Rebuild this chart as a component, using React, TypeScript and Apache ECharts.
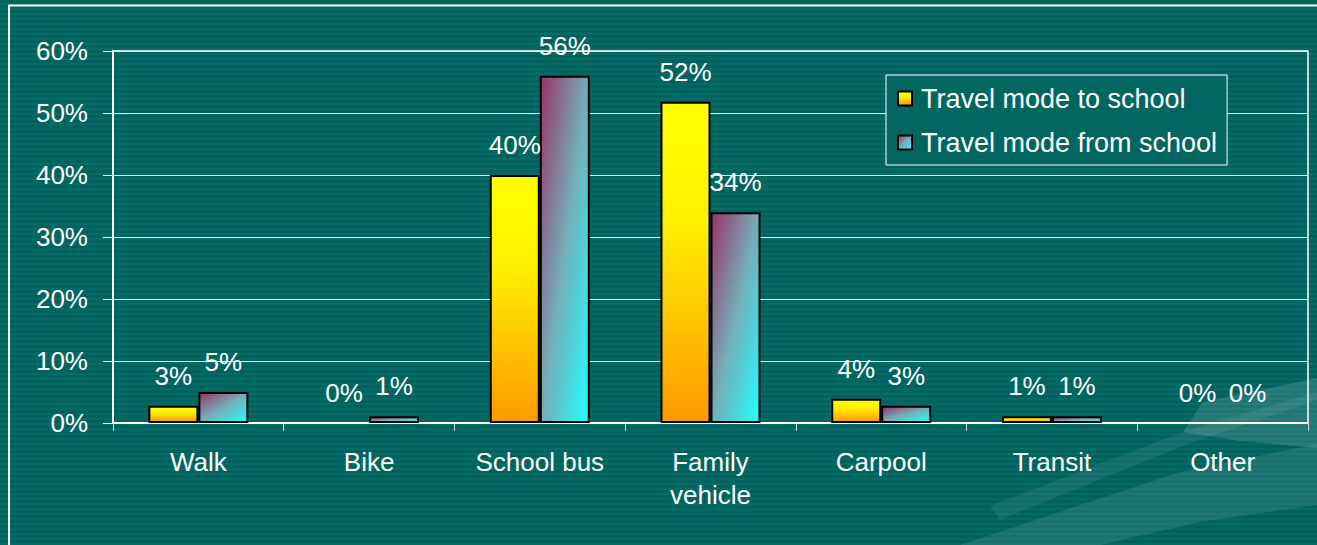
import React, { useEffect, useRef } from 'react';
import * as echarts from 'echarts';

const categories = ['Walk', 'Bike', 'School bus', 'Family\nvehicle', 'Carpool', 'Transit', 'Other'];
const seriesNames = ['Travel mode to school', 'Travel mode from school'];
const toSchool = [0.028, 0, 0.4, 0.518, 0.039, 0.011, 0];
const fromSchool = [0.05, 0.011, 0.56, 0.34, 0.028, 0.011, 0];
const yMin = 0;
const yMax = 0.6;
const yStep = 0.1;

const FONT = '"Liberation Sans", Arial, sans-serif';
const BG = '#036661';

const yellowFill = new echarts.graphic.LinearGradient(0, 0, 0, 1, [
  { offset: 0, color: '#FFFF00' },
  { offset: 0.35, color: '#FFF200' },
  { offset: 1, color: '#FF9900' },
]);
const cyanFill = new echarts.graphic.LinearGradient(0, 0, 1, 1, [
  { offset: 0, color: '#993366' },
  { offset: 0.5, color: '#74AEBA' },
  { offset: 1, color: '#22FFFF' },
]);

const pct = (v: number) => Math.round(v * 100) + '%';

function toItems(values: number[]) {
  return values.map((v) => (v === 0 ? { value: v, itemStyle: { borderWidth: 0 } } : v));
}

export default function App() {
  const ref = useRef<HTMLDivElement>(null);
  useEffect(() => {
    if (!ref.current) return;
    const chart = echarts.init(ref.current, null, { renderer: 'svg' });
    const labelCfg = {
      show: true,
      position: 'top',
      distance: 17,
      color: '#ffffff',
      fontSize: 26,
      fontFamily: FONT,
      formatter: (p: any) => pct(p.value),
    };
    chart.setOption({
      animation: false,
      backgroundColor: 'transparent',
      textStyle: { fontFamily: FONT },
      graphic: [
        {
          type: 'polygon',
          z: -10,
          silent: true,
          shape: { points: [[1183, 432], [1203, 402], [1317, 378], [1317, 448], [1240, 441]] },
          style: { fill: 'rgba(255,255,255,0.13)' },
        },
        {
          type: 'polygon',
          z: -10,
          silent: true,
          shape: { points: [[990, 506], [1180, 433], [1317, 392], [1317, 400], [1190, 443], [1000, 520]] },
          style: { fill: 'rgba(255,255,255,0.07)' },
        },
        {
          type: 'polygon',
          z: -10,
          silent: true,
          shape: { points: [[960, 545], [1180, 472], [1317, 444], [1317, 505], [1200, 522], [1100, 545]] },
          style: { fill: 'rgba(255,255,255,0.09)' },
        },
        {
          type: 'rect',
          z: 10,
          silent: true,
          shape: { x: 9, y: 5.5, width: 1400, height: 700 },
          style: { fill: 'none', stroke: '#ffffff', lineWidth: 2 },
        },
      ],
      grid: {
        left: 113,
        top: 51,
        right: 9,
        bottom: 122,
        show: true,
        borderColor: '#ffffff',
        borderWidth: 1.5,
        backgroundColor: 'transparent',
      },
      legend: {
        orient: 'vertical',
        left: 886,
        top: 75,
        padding: [10, 10, 9, 11],
        itemGap: 17,
        itemWidth: 14,
        itemHeight: 14,
        backgroundColor: BG,
        borderColor: '#ffffff',
        borderWidth: 1,
        borderRadius: 0,
        icon: 'rect',
        textStyle: { color: '#ffffff', fontSize: 27, fontFamily: FONT, padding: [0, 0, 0, 4] },
        data: seriesNames,
      },
      xAxis: {
        type: 'category',
        data: categories,
        axisLine: { lineStyle: { color: '#ffffff', width: 2 } },
        axisTick: { show: true, length: 8, lineStyle: { color: '#c8dcdc', width: 1 } },
        axisLabel: { color: '#ffffff', fontSize: 26, fontFamily: FONT, lineHeight: 33, margin: 22, interval: 0 },
      },
      yAxis: {
        type: 'value',
        min: yMin,
        max: yMax,
        interval: yStep,
        axisLine: { show: true, lineStyle: { color: '#ffffff', width: 2 } },
        axisTick: { show: true, length: 10, lineStyle: { color: '#ffffff', width: 1 } },
        axisLabel: { color: '#ffffff', fontSize: 26, fontFamily: FONT, margin: 25, formatter: (v: number) => pct(v) },
        splitLine: { show: true, lineStyle: { color: 'rgba(255,255,255,0.9)', width: 1 } },
      },
      series: [
        {
          name: seriesNames[0],
          type: 'bar',
          data: toItems(toSchool),
          barWidth: 50,
          barGap: '0%',
          itemStyle: { color: yellowFill, borderColor: '#000000', borderWidth: 2 },
          label: labelCfg,
        },
        {
          name: seriesNames[1],
          type: 'bar',
          data: toItems(fromSchool),
          barWidth: 50,
          barGap: '0%',
          itemStyle: { color: cyanFill, borderColor: '#000000', borderWidth: 2 },
          label: labelCfg,
        },
      ],
    });
    return () => chart.dispose();
  }, []);
  return (
    <div
      style={{
        position: 'fixed',
        left: 0,
        top: 0,
        width: 1317,
        height: 545,
        background: `repeating-linear-gradient(to bottom, #02635e 0px, #02635e 3px, #076a66 3px, #076a66 5px)`,
      }}
    >
      <div ref={ref} style={{ width: 1317, height: 545 }} />
    </div>
  );
}
